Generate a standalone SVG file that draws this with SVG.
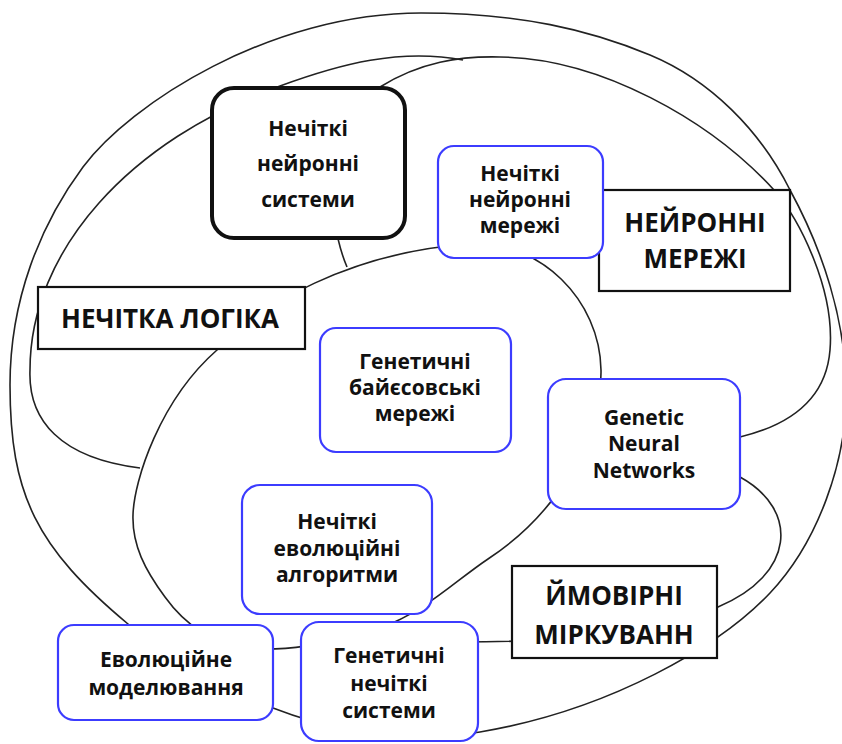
<svg xmlns="http://www.w3.org/2000/svg" width="842" height="744" viewBox="0 0 842 744">
<style>
.c{fill:none;stroke:#222;stroke-width:1.6}
.b{fill:#fff;stroke:#3c3cff;stroke-width:2.2}
.k{fill:#fff;stroke:#111;stroke-width:2.2}
.t{font-family:"Open Sans","Liberation Sans",sans-serif;font-weight:bold;font-size:21px;fill:#111;text-anchor:middle}
.L{font-size:26px}
</style>
<rect width="842" height="744" fill="#fff"/>
<g id="connectors">
<path class="c" d="M421,13 C520,13 590,30 650,55 C710,80 760,130 790,190 C820,245 848,320 846,400 C845,460 820,540 770,593 C720,646 610,710 480,732 C400,745 330,730 273,708 C216,686 168,657 128,624 C36.5,547.5 10,495 10,385 C10,300 40,225 83,167 C130,104 270,13 421,13 Z"/>
<path class="c" d="M133,515 C134,480 160,400 217,350 C260,305 350,252 470,244 C540,240 600,300 601,370 C602,440 555,515 488,559 C455,581 425,612 380,628 C330,645 280,652 245,648 C215,645 185,625 165,597 C145,570 132,545 133,515 Z"/>
<path class="c" d="M140,468 C60,458 28,420 30,370 C30,250 130,140 280,86 C340,64 400,48 463,60"/>
<path class="c" d="M347,267 C325,215 325,130 380,87 C420,62 460,56 500,57 C600,58 710,120 774,190 C800,220 835,290 830,350 C826,400 790,425 740,437"/>
<path class="c" d="M740,477 C800,510 795,575 718,607 C650,635 560,642 460,642"/>
</g>
<g id="n-nns">
<rect x="212" y="88" width="193" height="150" rx="22" fill="#fff" stroke="#111" stroke-width="4"/>
<text class="t" x="308" y="136">Нечіткі</text>
<text class="t" x="308" y="171">нейронні</text>
<text class="t" x="308" y="207">системи</text>
</g>
<g id="n-nn">
<rect class="k" x="599" y="190" width="191" height="101"/>
<text class="t L" x="695" y="232">НЕЙРОННІ</text>
<text class="t L" x="695" y="268">МЕРЕЖІ</text>
</g>
<g id="n-fnn">
<rect class="b" x="438" y="146" width="165" height="112" rx="16"/>
<text class="t" x="520" y="181">Нечіткі</text>
<text class="t" x="520" y="207">нейронні</text>
<text class="t" x="520" y="233">мережі</text>
</g>
<g id="n-fl">
<rect class="k" x="38" y="287" width="267" height="62"/>
<text class="t L" x="170" y="328">НЕЧІТКА ЛОГІКА</text>
</g>
<g id="n-gbn">
<rect class="b" x="320" y="328" width="191" height="124" rx="16"/>
<text class="t" x="415" y="369">Генетичні</text>
<text class="t" x="415" y="395">байєсовські</text>
<text class="t" x="415" y="421">мережі</text>
</g>
<g id="n-gnn">
<rect class="b" x="548" y="379" width="192" height="130" rx="18"/>
<text class="t" x="644" y="425">Genetic</text>
<text class="t" x="644" y="451">Neural</text>
<text class="t" x="644" y="478">Networks</text>
</g>
<g id="n-fea">
<rect class="b" x="242" y="485" width="190" height="129" rx="18"/>
<text class="t" x="337" y="529">Нечіткі</text>
<text class="t" x="337" y="556">еволюційні</text>
<text class="t" x="337" y="582">алгоритми</text>
</g>
<g id="n-em">
<rect class="b" x="58" y="625" width="215" height="95" rx="16"/>
<text class="t" x="166" y="667">Еволюційне</text>
<text class="t" x="166" y="695">моделювання</text>
</g>
<g id="n-gfs">
<rect class="b" x="301" y="622" width="177" height="119" rx="18"/>
<text class="t" x="389" y="663">Генетичні</text>
<text class="t" x="389" y="691">нечіткі</text>
<text class="t" x="389" y="718">системи</text>
</g>
<g id="n-pr">
<rect class="k" x="512" y="566" width="205" height="92"/>
<text class="t L" x="614" y="605">ЙМОВІРНІ</text>
<text class="t L" x="614" y="644">МІРКУВАНН</text>
</g>
</svg>
